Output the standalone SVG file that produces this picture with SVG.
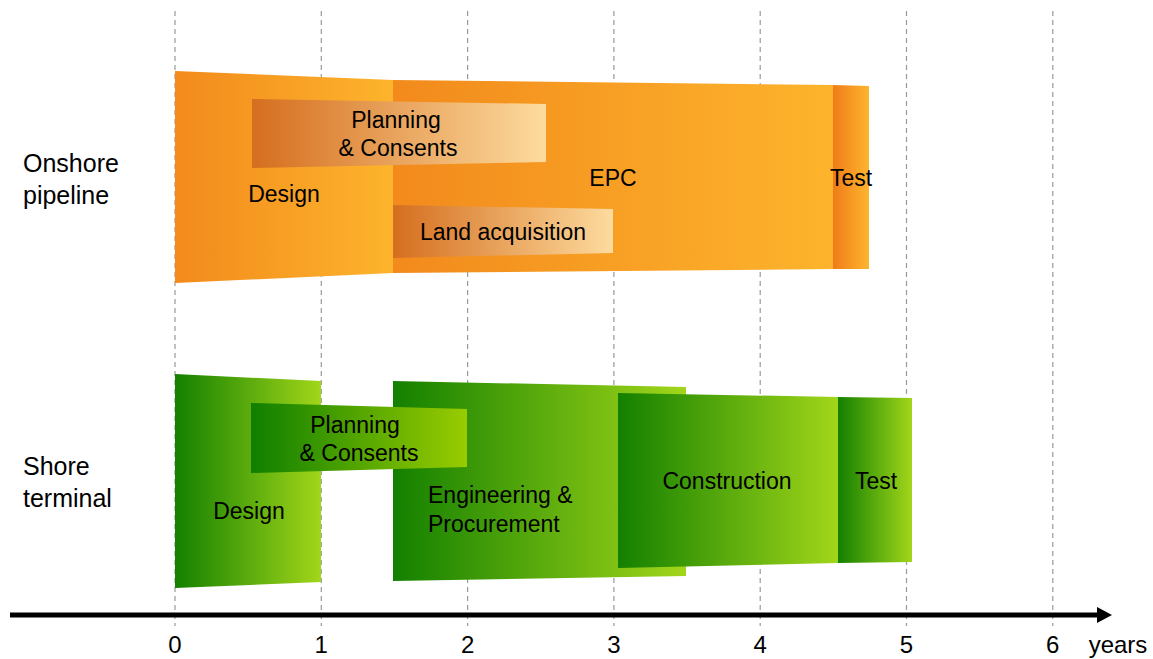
<svg xmlns="http://www.w3.org/2000/svg" width="1153" height="659" viewBox="0 0 1153 659">
<style>
text{font-family:"Liberation Sans",Arial,sans-serif;fill:#000}
.bl{font-size:23px;text-anchor:middle}
.bll{font-size:23px}
.side{font-size:25px}
.ax{font-size:24px;text-anchor:middle}
.grid{stroke:#999;stroke-width:1.2;stroke-dasharray:5 4;fill:none}
</style>
<defs>
<linearGradient id="gOr" x1="0" x2="1" y1="0" y2="0"><stop offset="0" stop-color="#F28A1C"/><stop offset="1" stop-color="#FDB42C"/></linearGradient>
<linearGradient id="gOrT" x1="0" x2="1" y1="0" y2="0"><stop offset="0" stop-color="#F07C18"/><stop offset="1" stop-color="#FDB52E"/></linearGradient>
<linearGradient id="gOrP" x1="0" x2="1" y1="0" y2="0"><stop offset="0" stop-color="#D56E1E"/><stop offset="1" stop-color="#FDDB9E"/></linearGradient>
<linearGradient id="gGr" x1="0" x2="1" y1="0" y2="0"><stop offset="0" stop-color="#138000"/><stop offset="1" stop-color="#A2D61A"/></linearGradient>
<linearGradient id="gGrP" x1="0" x2="1" y1="0" y2="0"><stop offset="0" stop-color="#0F7F00"/><stop offset="1" stop-color="#99CC00"/></linearGradient>
<marker id="arr" viewBox="0 0 10 10" refX="0" refY="5" markerWidth="15" markerHeight="16" markerUnits="userSpaceOnUse" orient="auto" preserveAspectRatio="none"><path d="M0,0 L10,5 L0,10 Z" fill="#000"/></marker>
</defs>
<g id="grid">
<line class="grid" x1="175" y1="11" x2="175" y2="626"/>
<line class="grid" x1="321.3" y1="11" x2="321.3" y2="626"/>
<line class="grid" x1="467.6" y1="11" x2="467.6" y2="626"/>
<line class="grid" x1="613.9" y1="11" x2="613.9" y2="626"/>
<line class="grid" x1="760.2" y1="11" x2="760.2" y2="626"/>
<line class="grid" x1="906.5" y1="11" x2="906.5" y2="626"/>
<line class="grid" x1="1052.8" y1="11" x2="1052.8" y2="626"/>
</g>
<g id="labels">
<text class="side" x="23" y="172">Onshore</text>
<text class="side" x="23" y="204">pipeline</text>
<text class="side" x="23" y="475">Shore</text>
<text class="side" x="23" y="507">terminal</text>
</g>
<g id="on-design"><polygon points="175,71 393,80 393,273 175,283" fill="url(#gOr)"/><text class="bl" x="284" y="202">Design</text></g>
<g id="on-epc"><polygon points="393,80 833,85 833,269 393,273" fill="url(#gOr)"/><text class="bl" x="613" y="186">EPC</text></g>
<g id="on-test"><polygon points="833,85 869,86 869,269 833,269" fill="url(#gOrT)"/><text class="bl" x="851" y="186">Test</text></g>
<g id="on-planning"><polygon points="252,99 546,104 546,162 252,168" fill="url(#gOrP)"/><text class="bl" x="396" y="128">Planning</text><text class="bl" x="398" y="156">&amp; Consents</text></g>
<g id="on-land"><polygon points="393,205 613,209 613,253 393,258" fill="url(#gOrP)"/><text class="bl" x="503" y="240">Land acquisition</text></g>
<g id="st-design"><polygon points="175,374 321,381 321,582 175,588" fill="url(#gGr)"/><text class="bl" x="249" y="519">Design</text></g>
<g id="st-eng"><polygon points="393,381 686,387 686,576 393,581" fill="url(#gGr)"/><text class="bll" x="428" y="503">Engineering &amp;</text><text class="bll" x="428" y="532">Procurement</text></g>
<g id="st-planning"><polygon points="251,403 467,409 467,467 251,473" fill="url(#gGrP)"/><text class="bl" x="355" y="433">Planning</text><text class="bl" x="359" y="461">&amp; Consents</text></g>
<g id="st-construction"><polygon points="618,393 838,397 838,563 618,568" fill="url(#gGr)"/><text class="bl" x="727" y="489">Construction</text></g>
<g id="st-test"><polygon points="838,397 912,398 912,562 838,563" fill="url(#gGr)"/><text class="bl" x="876" y="489">Test</text></g>
<g id="connectors">
<line x1="10" y1="615" x2="1097" y2="615" stroke="#000" stroke-width="5" marker-end="url(#arr)"/>
</g>
<g id="axis-labels">
<text class="ax" x="175" y="653">0</text>
<text class="ax" x="321.3" y="653">1</text>
<text class="ax" x="467.6" y="653">2</text>
<text class="ax" x="613.9" y="653">3</text>
<text class="ax" x="760.2" y="653">4</text>
<text class="ax" x="906.5" y="653">5</text>
<text class="ax" x="1052.8" y="653">6</text>
<text class="ax" x="1118" y="653">years</text>
</g>
</svg>
